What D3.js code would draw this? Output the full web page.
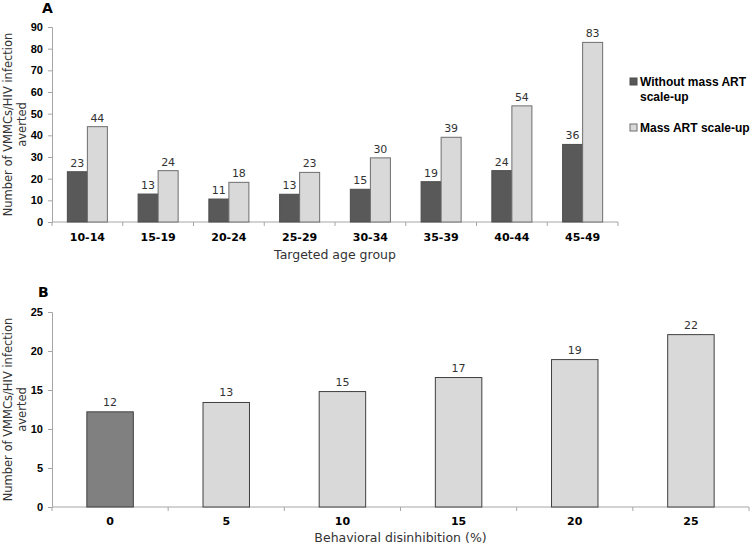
<!DOCTYPE html>
<html>
<head>
<meta charset="utf-8">
<script src="https://cdn.jsdelivr.net/npm/d3@7"></script>
<style>
  body { margin: 0; background: #fff; }
  svg { display: block; font-family: "DejaVu Sans", sans-serif; }
</style>
</head>
<body>
<script>
// Panel A data
var ageGroups = ["10-14", "15-19", "20-24", "25-29", "30-34", "35-39", "40-44", "45-49"];
var withoutMassArt = [23.2, 12.9, 10.6, 12.8, 15.1, 18.6, 23.7, 35.8];
var massArt = [44.0, 23.7, 18.3, 22.9, 29.6, 39.1, 53.6, 82.9];
var seriesNames = ["Without mass ART scale-up", "Mass ART scale-up"];
var yTicksA = [0, 10, 20, 30, 40, 50, 60, 70, 80, 90];

// Panel B data
var disinhibition = ["0", "5", "10", "15", "20", "25"];
var avertedB = [12.2, 13.4, 14.8, 16.6, 18.9, 22.1];
var yTicksB = [0, 5, 10, 15, 20, 25];

var width = 750, height = 545;
var axisColor = "#a6a6a6";
var darkFill = "#595959", lightFill = "#d9d9d9", midFill = "#808080";

var svg = d3.select("body").append("svg")
    .attr("width", width)
    .attr("height", height);

// ---------- Panel A ----------
var left = 52, rightA = 618, topA = 27, bottomA = 222;

var x0 = d3.scaleBand().domain(ageGroups).range([left, rightA]).padding(0);
var x1 = d3.scaleBand().domain([0, 1])
    .range([x0.bandwidth() * 0.217, x0.bandwidth() * 0.783]).padding(0);
var yA = d3.scaleLinear().domain([0, 90]).range([bottomA, topA]);

var gA = svg.append("g");

// y axis
var yAxisA = gA.append("g")
    .attr("transform", "translate(" + left + ",0)")
    .call(d3.axisLeft(yA).tickValues(yTicksA).tickSize(4).tickPadding(5));
yAxisA.selectAll("text").attr("font-size", 11).attr("font-weight", "bold").attr("fill", "#000");

// x axis with ticks at group boundaries
gA.append("line")
    .attr("x1", left).attr("x2", rightA)
    .attr("y1", bottomA).attr("y2", bottomA)
    .attr("stroke", axisColor);
gA.selectAll(".xtick")
    .data(d3.range(ageGroups.length + 1))
    .enter().append("line")
    .attr("x1", function(i) { return left + i * x0.step(); })
    .attr("x2", function(i) { return left + i * x0.step(); })
    .attr("y1", bottomA).attr("y2", bottomA + 4)
    .attr("stroke", axisColor);
gA.selectAll(".xlab")
    .data(ageGroups)
    .enter().append("text")
    .attr("x", function(d) { return x0(d) + x0.bandwidth() / 2; })
    .attr("y", bottomA + 19)
    .attr("text-anchor", "middle")
    .attr("font-size", 11)
    .attr("font-weight", "bold")
    .text(function(d) { return d; });

// bars
var rowsA = ageGroups.map(function(g, i) {
    return { group: g, vals: [withoutMassArt[i], massArt[i]] };
});
var groups = gA.selectAll(".grp")
    .data(rowsA)
    .enter().append("g")
    .attr("transform", function(d) { return "translate(" + x0(d.group) + ",0)"; });

groups.selectAll("rect")
    .data(function(d) { return d.vals; })
    .enter().append("rect")
    .attr("x", function(d, i) { return x1(i); })
    .attr("y", function(d) { return yA(d); })
    .attr("width", x1.bandwidth())
    .attr("height", function(d) { return bottomA - yA(d); })
    .attr("fill", function(d, i) { return i === 0 ? darkFill : lightFill; })
    .attr("stroke", function(d, i) { return i === 0 ? "#4d4d4d" : "#6e6e6e"; })
    .attr("stroke-width", 1);

groups.selectAll(".val")
    .data(function(d) { return d.vals; })
    .enter().append("text")
    .attr("x", function(d, i) { return x1(i) + x1.bandwidth() / 2; })
    .attr("y", function(d) { return yA(d) - 5; })
    .attr("text-anchor", "middle")
    .attr("font-size", 11)
    .attr("fill", "#333")
    .text(function(d) { return Math.round(d); });

yAxisA.select(".domain").attr("stroke", axisColor);
yAxisA.selectAll(".tick line").attr("stroke", axisColor);

// axis titles
gA.append("text")
    .attr("x", (left + rightA) / 2).attr("y", bottomA + 37)
    .attr("text-anchor", "middle")
    .attr("font-size", 12.5)
    .attr("fill", "#333")
    .text("Targeted age group");

var ytA = gA.append("text")
    .attr("transform", "translate(12," + (topA + bottomA) / 2 + ") rotate(-90)")
    .attr("text-anchor", "middle")
    .attr("font-size", 11.5)
    .attr("fill", "#333");
ytA.append("tspan").attr("x", 0).attr("dy", 0).text("Number of VMMCs/HIV infection");
ytA.append("tspan").attr("x", 0).attr("dy", 14).text("averted");

gA.append("text")
    .attr("x", 42).attr("y", 13)
    .attr("font-size", 14).attr("font-weight", "bold")
    .text("A");

// legend
var legend = gA.append("g")
    .attr("transform", "translate(630,0)")
    .attr("font-family", "'Liberation Sans', Arial, sans-serif");
legend.append("rect")
    .attr("x", 0).attr("y", 78).attr("width", 7).attr("height", 7)
    .attr("fill", darkFill).attr("stroke", "#4d4d4d");
var l1 = legend.append("text")
    .attr("x", 10).attr("y", 86)
    .attr("font-size", 12).attr("font-weight", "bold");
l1.append("tspan").attr("x", 10).text("Without mass ART");
l1.append("tspan").attr("x", 10).attr("dy", 15).text("scale-up");
legend.append("rect")
    .attr("x", 0).attr("y", 124).attr("width", 7).attr("height", 7)
    .attr("fill", lightFill).attr("stroke", "#6e6e6e");
legend.append("text")
    .attr("x", 10).attr("y", 132)
    .attr("font-size", 12).attr("font-weight", "bold")
    .text("Mass ART scale-up");

// ---------- Panel B ----------
var rightB = 749, topB = 312, bottomB = 507;
var xB = d3.scaleBand().domain(disinhibition).range([left, rightB]).padding(0);
var yB = d3.scaleLinear().domain([0, 25]).range([bottomB, topB]);
var barW = xB.bandwidth() * 0.4;

var gB = svg.append("g");

var yAxisB = gB.append("g")
    .attr("transform", "translate(" + left + ",0)")
    .call(d3.axisLeft(yB).tickValues(yTicksB).tickSize(4).tickPadding(5));
yAxisB.selectAll("text").attr("font-size", 11).attr("font-weight", "bold").attr("fill", "#000");
yAxisB.select(".domain").attr("stroke", axisColor);
yAxisB.selectAll(".tick line").attr("stroke", axisColor);

gB.append("line")
    .attr("x1", left).attr("x2", rightB)
    .attr("y1", bottomB).attr("y2", bottomB)
    .attr("stroke", axisColor);
gB.selectAll(".xtick")
    .data(d3.range(disinhibition.length + 1))
    .enter().append("line")
    .attr("x1", function(i) { return left + i * xB.step(); })
    .attr("x2", function(i) { return left + i * xB.step(); })
    .attr("y1", bottomB).attr("y2", bottomB + 4)
    .attr("stroke", axisColor);
gB.selectAll(".xlab")
    .data(disinhibition)
    .enter().append("text")
    .attr("x", function(d) { return xB(d) + xB.bandwidth() / 2; })
    .attr("y", bottomB + 18)
    .attr("text-anchor", "middle")
    .attr("font-size", 11)
    .attr("font-weight", "bold")
    .text(function(d) { return d; });

gB.selectAll(".bar")
    .data(avertedB)
    .enter().append("rect")
    .attr("x", function(d, i) { return xB(disinhibition[i]) + (xB.bandwidth() - barW) / 2; })
    .attr("y", function(d) { return yB(d); })
    .attr("width", barW)
    .attr("height", function(d) { return bottomB - yB(d); })
    .attr("fill", function(d, i) { return i === 0 ? midFill : lightFill; })
    .attr("stroke", "#404040")
    .attr("stroke-width", 1);

gB.selectAll(".val")
    .data(avertedB)
    .enter().append("text")
    .attr("x", function(d, i) { return xB(disinhibition[i]) + xB.bandwidth() / 2; })
    .attr("y", function(d) { return yB(d) - 6; })
    .attr("text-anchor", "middle")
    .attr("font-size", 11)
    .attr("fill", "#333")
    .text(function(d) { return Math.round(d); });

gB.append("text")
    .attr("x", (left + rightB) / 2).attr("y", bottomB + 35)
    .attr("text-anchor", "middle")
    .attr("font-size", 12.5)
    .attr("fill", "#333")
    .text("Behavioral disinhibition (%)");

var ytB = gB.append("text")
    .attr("transform", "translate(12," + (topB + bottomB) / 2 + ") rotate(-90)")
    .attr("text-anchor", "middle")
    .attr("font-size", 11.5)
    .attr("fill", "#333");
ytB.append("tspan").attr("x", 0).attr("dy", 0).text("Number of VMMCs/HIV infection");
ytB.append("tspan").attr("x", 0).attr("dy", 14).text("averted");

gB.append("text")
    .attr("x", 38).attr("y", 297)
    .attr("font-size", 14).attr("font-weight", "bold")
    .text("B");
</script>
</body>
</html>
